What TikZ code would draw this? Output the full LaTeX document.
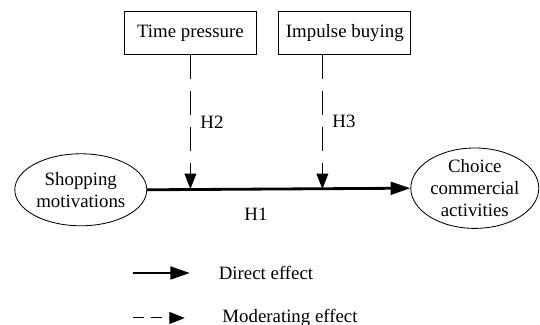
\documentclass[tikz,border=0pt]{standalone}
\usepackage{fontspec}
\setmainfont{Liberation Serif}
\usetikzlibrary{arrows.meta,shapes.geometric}

\begin{document}
\begin{tikzpicture}[font=\fontsize{13.4}{15.5}\selectfont,
	direct/.style={line width=2pt,-{Triangle[length=14pt,width=9pt]}},
	moder/.style={line width=0.7pt,dash pattern=on 17pt off 8.5pt,-{Triangle[length=11pt,width=8.5pt]}},
	fattore/.style={draw,line width=0.6pt,minimum width=3.3cm,minimum height=1.075cm,inner sep=0pt},
	costrutto/.style={draw,ellipse,line width=0.6pt,inner sep=0pt,align=center}]
	\useasboundingbox (0,0) rectangle (13.5,8.125);
	%Moderatori
	\node [fattore] (tp) at (4.76,7.29) {Time pressure};
	\node [fattore] (ib) at (8.62,7.29) {Impulse buying};
	%Costrutti
	\node [costrutto,minimum width=3.3cm,minimum height=1.8cm] (sm) at (2.02,3.38) {Shopping\\motivations};
	\node [costrutto,minimum width=3.2cm,minimum height=1.93cm] (cc) at (11.87,3.42) {Choice\\commercial\\activities};
	%Effetto diretto
	\draw [direct] (sm.east) -- (cc.west) coordinate [pos=0.5] (mid);
	\coordinate (m1) at (4.76,3.4);
	\coordinate (m2) at (8.06,3.4);
	%Effetti moderanti
	\draw [moder] (tp.south) -- (m1);
	\draw [moder] (ib.south -| m2) -- (m2);
	\node (h2) at (5.3,5.08) {H2};
	\node (h3) at (8.6,5.08) {H3};
	\node (h1) at (6.4,2.78) {H1};
	%Legenda
	\coordinate (l1) at (3.32,1.3);
	\coordinate (l2) at (4.75,1.3);
	\draw [direct] (l1) -- (l2);
	\node (ld) at (6.65,1.3) {Direct effect};
	\coordinate (l3) at (3.32,0.175);
	\coordinate (l4) at (4.62,0.175);
	\draw [moder,dash pattern=on 8pt off 5pt] (l3) -- (l4);
	\node (lm) at (7.25,0.175) {Moderating effect};
\end{tikzpicture}
\end{document}
